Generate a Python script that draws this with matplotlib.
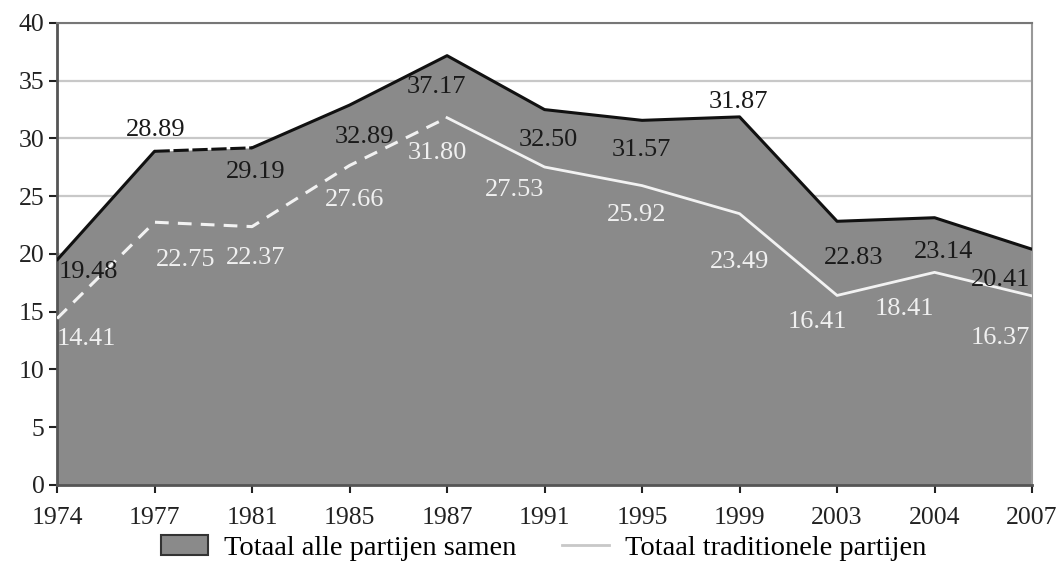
import matplotlib.pyplot as plt
from matplotlib.patches import Patch
from matplotlib.lines import Line2D

plt.rcParams["font.family"] = ["Liberation Serif", "DejaVu Serif"]

years = ["1974", "1977", "1981", "1985", "1987", "1991", "1995", "1999", "2003", "2004", "2007"]
totaal = [19.48, 28.89, 29.19, 32.89, 37.17, 32.50, 31.57, 31.87, 22.83, 23.14, 20.41]
traditioneel = [14.41, 22.75, 22.37, 27.66, 31.80, 27.53, 25.92, 23.49, 16.41, 18.41, 16.37]

# label offsets in pixels (dx, dy)
off_tot = [(31, -12), (1, 21), (4, -24), (15, -32), (-11, -31), (4, -30), (-1, -30), (-1, 15),
           (17, -37), (9, -34), (-32, -31)]
off_trad = [(29, -20), (31, -38), (4, -31), (5, -34), (-10, -35), (-30, -23), (-5, -29), (0, -48),
            (-20, -27), (-30, -37), (-32, -42)]

x = list(range(len(years)))

fig = plt.figure(figsize=(10.64, 5.73), dpi=100)
ax = fig.add_axes([0.0536, 0.1536, 0.9164, 0.8063])

ax.set_xlim(0, len(years) - 1)
ax.set_ylim(0, 40)
ax.set_yticks(range(0, 41, 5))
ax.yaxis.grid(True, color="#c8c8c8", linewidth=1.6, zorder=0)
ax.set_axisbelow(True)

ax.fill_between(x, totaal, 0, color="#8a8a8a", zorder=2, linewidth=0)
# black top line, dashed between 1977 and 1981
ax.plot(x[:2], totaal[:2], color="#111111", lw=2.2, zorder=3, solid_capstyle="round")
ax.plot(x[1:3], totaal[1:3], color="#111111", lw=2.2, ls=(0, (5, 1.2)), zorder=3)
ax.plot(x[2:], totaal[2:], color="#111111", lw=2.2, zorder=3, solid_capstyle="round")
# white traditional line, dashed until 1987
ax.plot(x[:5], traditioneel[:5], color="#f2f2f2", lw=2.2, ls=(0, (4.5, 3)), zorder=3)
ax.plot(x[4:], traditioneel[4:], color="#f2f2f2", lw=2.0, zorder=3)

for i in x:
    ax.annotate(f"{totaal[i]:.2f}", (i, totaal[i]), xytext=off_tot[i], textcoords="offset pixels",
                ha="center", va="center", fontsize=19, color="#1a1a1a", zorder=4)
    ax.annotate(f"{traditioneel[i]:.2f}", (i, traditioneel[i]), xytext=off_trad[i],
                textcoords="offset pixels", ha="center", va="center", fontsize=19,
                color="#f0f0f0", zorder=4)

ax.set_xticks(x)
ax.set_xticklabels(years)
ax.tick_params(axis="both", labelsize=18.5, colors="#222222", length=6, width=1.5, direction="out")
ax.tick_params(axis="x", pad=10)
ax.tick_params(axis="y", pad=3)

for side in ["left", "bottom"]:
    ax.spines[side].set_color("#555555")
    ax.spines[side].set_linewidth(2.0)
ax.spines["top"].set_color("#777777")
ax.spines["top"].set_linewidth(1.5)
ax.spines["right"].set_color("#999999")
ax.spines["right"].set_linewidth(1.5)

handles = [Patch(facecolor="#8a8a8a", edgecolor="#333333", linewidth=1.5),
           Line2D([0], [0], color="#c8c8c8", lw=2)]
fig.legend(handles, ["Totaal alle partijen samen", "Totaal traditionele partijen"],
           loc="center", bbox_to_anchor=(0.511, 0.043), ncol=2, frameon=False, fontsize=20.5,
           handlelength=1.65, handleheight=0.7, columnspacing=1.6, handletextpad=0.56)

fig.savefig("out.png", dpi=100)
